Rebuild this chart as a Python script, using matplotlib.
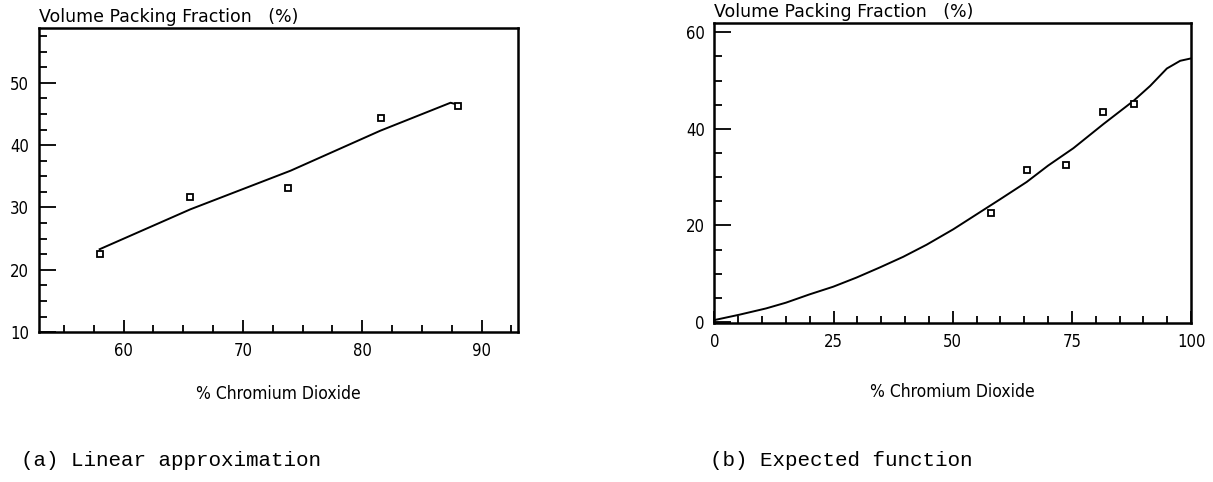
import matplotlib
matplotlib.use("Agg")
import matplotlib.pyplot as plt
from matplotlib.ticker import MultipleLocator

# measured points (same samples in both panels)
chromium = [58.0, 65.6, 73.8, 81.6, 88.0]
packing_a = [22.6, 31.7, 33.2, 44.3, 46.3]
packing_b = [22.6, 31.4, 32.6, 43.4, 45.2]

# panel (a): linear approximation
lin_x = [58.0, 65.6, 74.0, 81.5, 87.4, 88.0]
lin_y = [23.3, 29.7, 35.9, 42.3, 46.8, 46.5]

# panel (b): expected function
fit_x = [0.0, 5.2, 10.8, 15.0, 19.9, 24.9, 29.8, 34.7, 39.6, 44.5, 50.1,
         55.0, 59.9, 65.5, 70.0, 75.3, 81.6, 87.9, 91.4, 94.9, 97.7, 100.0]
fit_y = [0.4, 1.5, 2.8, 4.0, 5.7, 7.3, 9.2, 11.3, 13.5, 16.0, 19.2,
         22.3, 25.4, 29.0, 32.4, 36.0, 41.0, 45.8, 48.9, 52.5, 54.1, 54.6]

ylabel = "Volume Packing Fraction   (%)"
xlabel = "% Chromium Dioxide"
captions = ["(a) Linear approximation", "(b) Expected function"]


def style_axes(ax):
    for s in ax.spines.values():
        s.set_linewidth(1.8)
    ax.tick_params(which="both", direction="in", top=False, right=False,
                   width=1.3, pad=7)
    ax.tick_params(axis="x", which="major", length=9)
    ax.tick_params(axis="x", which="minor", length=5)
    ax.tick_params(axis="y", which="major", length=12)
    ax.tick_params(axis="y", which="minor", length=6)
    for lab in ax.get_xticklabels() + ax.get_yticklabels():
        lab.set_fontfamily("DejaVu Sans")
        lab.set_fontstretch("condensed")
        lab.set_fontsize(12)


fig = plt.figure(figsize=(12.13, 4.82), dpi=100)

# ---- panel (a)
ax1 = fig.add_axes([0.032, 0.311, 0.395, 0.631])
ax1.plot(lin_x, lin_y, color="black", lw=1.4)
ax1.plot(chromium, packing_a, ls="none", marker="s", ms=4, mfc="white",
         mec="black", mew=1.3)
ax1.set_xlim(52.9, 93.05)
ax1.set_ylim(10, 58.8)
ax1.xaxis.set_minor_locator(MultipleLocator(2.5))
ax1.yaxis.set_minor_locator(MultipleLocator(2.5))
ax1.set_xticks([60, 70, 80, 90])
ax1.set_yticks([10, 20, 30, 40, 50])
style_axes(ax1)

# ---- panel (b)
ax2 = fig.add_axes([0.589, 0.330, 0.393, 0.623])
ax2.plot(fit_x, fit_y, color="black", lw=1.4)
ax2.plot(chromium, packing_b, ls="none", marker="s", ms=4, mfc="white",
         mec="black", mew=1.3)
ax2.set_xlim(0, 100)
ax2.set_ylim(-0.2, 62)
ax2.xaxis.set_minor_locator(MultipleLocator(5))
ax2.yaxis.set_minor_locator(MultipleLocator(5))
ax2.set_xticks([0, 25, 50, 75, 100])
ax2.set_yticks([0, 20, 40, 60])
style_axes(ax2)

for ax, cap, xc, ly in [(ax1, captions[0], 0.017, -0.205),
                        (ax2, captions[1], 0.585, -0.23)]:
    ax.text(0.0, 1.005, ylabel, transform=ax.transAxes, ha="left", va="bottom",
            fontfamily="DejaVu Sans", fontsize=12.5)
    ax.text(0.5, ly, xlabel, transform=ax.transAxes, ha="center",
            va="center", fontfamily="DejaVu Sans", fontstretch="condensed",
            fontsize=12.5)
    fig.text(xc, 0.045, cap, ha="left", va="center",
             fontfamily="Liberation Mono", fontsize=15)

fig.savefig("out.png", dpi=100)
